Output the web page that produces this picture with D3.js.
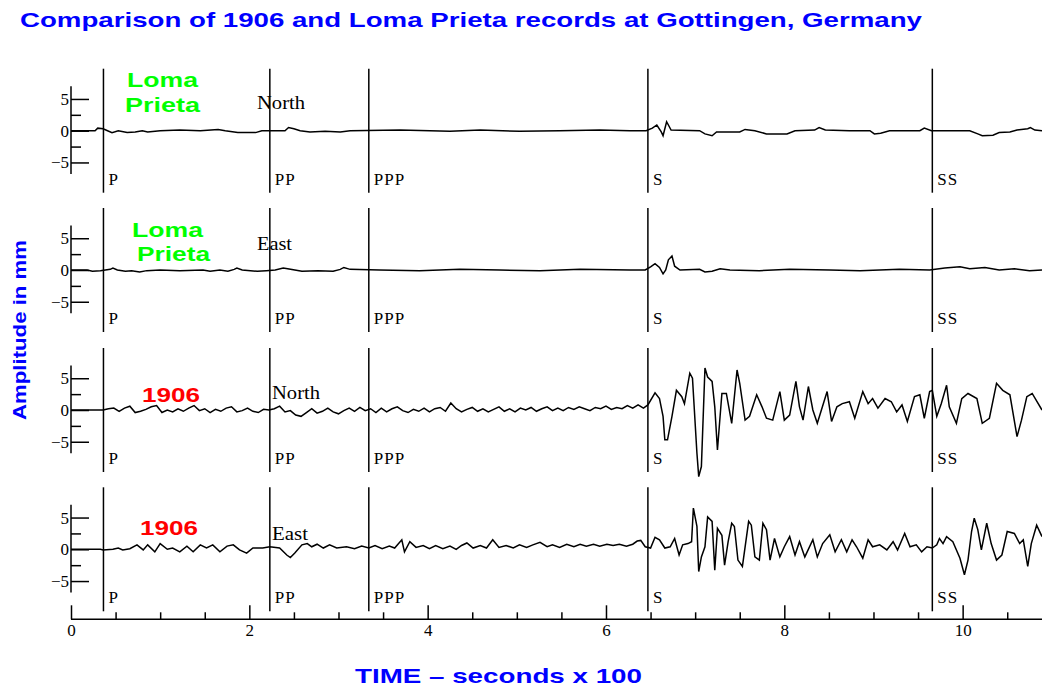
<!DOCTYPE html>
<html>
<head>
<meta charset="utf-8">
<script src="https://cdn.jsdelivr.net/npm/d3@7"></script>
<style>
  body { margin: 0; background: #fff; }
  svg { display: block; }
</style>
</head>
<body>
<svg id="chart" width="1042" height="688"></svg>
<script>
// phase arrivals, in seconds x 100
const phaseNames = ["P", "PP", "PPP", "S", "SS"];
const phaseTimes = [0.364, 2.23, 3.34, 6.47, 9.66];

const xMajorTicks = [0, 2, 4, 6, 8, 10];
const xMinorTicks = [0.5, 1, 1.5, 2.5, 3, 3.5, 4.5, 5, 5.5, 6.5, 7, 7.5, 8.5, 9, 9.5, 10.5];
const yMajorTicks = [-5, 0, 5];
const yMinorTicks = [-2.5, 2.5];

const eventNames = [["Loma", "Prieta"], ["Loma", "Prieta"], ["1906"], ["1906"]];
const componentNames = ["North", "East", "North", "East"];

// traces: [time (s x 100), amplitude (mm)]
const lomaNorth = [
  [0,0],[0.27,0],[0.30,0.4],[0.36,0.3],[0.41,0],[0.46,-0.3],[0.53,0],[0.63,-0.3],[0.72,-0.2],[0.80,0],
  [0.86,-0.2],[1.00,0],[1.22,0.1],[1.45,0],[1.65,0.2],[1.73,0],[1.87,-0.3],[2.07,-0.3],[2.14,0],[2.40,0],
  [2.44,0.5],[2.50,0.3],[2.57,0],[2.68,-0.2],[2.85,-0.1],[3.02,-0.2],[3.13,0],[3.69,0.1],[4.25,-0.1],[4.59,0.1],
  [5.03,-0.1],[5.48,0],[5.93,0.1],[6.27,0],[6.45,0],[6.52,0.4],[6.57,0.9],[6.62,-0.2],[6.64,-0.8],[6.68,1.4],
  [6.70,0.9],[6.73,0.1],[7.05,0],[7.11,-0.5],[7.19,-0.8],[7.24,-0.2],[7.50,-0.2],[7.56,0.2],[7.67,0],[7.80,-0.5],
  [8.03,-0.5],[8.12,0],[8.34,0.1],[8.39,0.5],[8.46,0.1],[8.73,0],[8.96,0],[9.01,-0.5],[9.08,-0.4],[9.18,0],
  [9.52,0],[9.57,0.4],[9.65,0],[10.08,0],[10.17,-0.5],[10.22,-0.8],[10.34,-0.7],[10.41,-0.3],[10.53,-0.2],[10.61,0.1],
  [10.73,0.3],[10.76,0.5],[10.81,0.1],[10.89,0]
];

const lomaEast = [
  [0,0],[0.18,0],[0.24,-0.2],[0.33,-0.1],[0.44,0.1],[0.47,0.3],[0.52,0],[0.61,-0.2],[0.68,-0.1],[0.77,-0.3],
  [0.85,-0.1],[1.00,0],[1.22,-0.1],[1.48,0],[1.56,-0.2],[1.67,0],[1.76,-0.2],[1.83,0.1],[1.86,0.3],[1.92,0],
  [2.09,-0.2],[2.19,-0.1],[2.29,0],[2.38,0.3],[2.43,0.2],[2.51,0],[2.59,-0.2],[2.77,-0.1],[2.94,-0.2],[3.02,0.1],
  [3.06,0.4],[3.13,0.1],[3.46,0],[3.91,-0.1],[4.36,0.1],[4.81,0],[5.26,-0.1],[5.71,0.1],[6.27,0],[6.44,0],
  [6.50,0.5],[6.55,1.0],[6.60,0.4],[6.64,-0.6],[6.67,0],[6.70,1.6],[6.74,2.2],[6.77,0.6],[6.83,0],[7.05,0.1],
  [7.11,-0.3],[7.19,-0.2],[7.28,0.2],[7.39,0],[7.72,-0.1],[8.06,0.1],[8.51,0],[8.85,-0.1],[9.29,0.1],[9.63,0],
  [9.80,0.3],[9.97,0.5],[10.08,0.2],[10.25,0.4],[10.41,0],[10.58,0.2],[10.75,-0.1],[10.89,0]
];

const north1906 = [
  [0,0],[0.36,0],[0.42,0.2],[0.48,0.3],[0.54,-0.2],[0.60,0.3],[0.66,0.6],[0.72,-0.4],[0.78,-0.2],[0.84,0.1],
  [0.90,0.5],[0.96,0.7],[1.02,-0.4],[1.08,0.0],[1.14,-0.3],[1.20,0.2],[1.26,-0.2],[1.32,0.3],[1.38,0.7],[1.44,-0.1],
  [1.50,0.2],[1.56,-0.4],[1.62,0.1],[1.68,-0.2],[1.74,0.3],[1.80,0.5],[1.86,-0.3],[1.92,-0.1],[1.98,0.3],[2.04,-0.2],
  [2.10,-0.4],[2.16,0.1],[2.22,0.0],[2.28,0.2],[2.34,0.6],[2.40,-0.3],[2.46,-0.1],[2.52,-0.8],[2.58,-1.0],[2.64,-0.4],
  [2.70,0.2],[2.76,-0.5],[2.82,-0.2],[2.88,0.3],[2.94,-0.3],[3.00,-0.6],[3.06,-0.1],[3.12,0.3],[3.18,-0.2],[3.24,0.4],
  [3.30,-0.1],[3.36,0.2],[3.42,-0.4],[3.48,0.3],[3.54,-0.3],[3.60,0.2],[3.66,0.5],[3.72,-0.1],[3.78,-0.4],[3.84,0.1],
  [3.90,-0.2],[3.96,0.3],[4.02,-0.3],[4.08,0.2],[4.14,0.4],[4.20,-0.2],[4.26,1.1],[4.32,0.2],[4.38,-0.3],[4.44,0.1],
  [4.50,0.4],[4.56,-0.2],[4.62,0.2],[4.68,-0.3],[4.74,0.1],[4.80,0.5],[4.86,-0.2],[4.92,0.2],[4.98,-0.3],[5.04,0.3],
  [5.10,0.0],[5.16,0.4],[5.22,-0.2],[5.28,0.2],[5.34,0.5],[5.40,-0.1],[5.46,0.3],[5.52,-0.1],[5.58,0.4],[5.64,0.1],
  [5.70,0.5],[5.76,0.2],[5.82,-0.1],[5.88,0.4],[5.94,0.2],[6.00,0.6],[6.06,0.1],[6.12,0.4],[6.18,0.2],[6.24,0.7],
  [6.30,0.3],[6.36,0.8],[6.42,0.3],[6.47,0.8],[6.55,2.7],[6.60,1.8],[6.64,-1.0],[6.66,-4.7],[6.69,-4.7],[6.74,-1.0],
  [6.79,3.1],[6.85,2.1],[6.88,1.0],[6.94,5.8],[6.97,5.0],[7.02,-6.8],[7.04,-10.5],[7.07,-8.9],[7.11,6.6],[7.14,5.2],
  [7.19,4.5],[7.22,0.5],[7.25,-6.3],[7.30,2.6],[7.35,2.6],[7.41,-2.1],[7.47,6.3],[7.50,4.2],[7.56,-1.6],[7.61,-1.0],
  [7.69,2.4],[7.75,0.5],[7.80,-1.3],[7.87,-1.6],[7.95,2.9],[8.00,-1.6],[8.06,-0.8],[8.13,4.5],[8.17,0.5],[8.21,-1.6],
  [8.27,3.7],[8.32,0],[8.37,-2.1],[8.48,2.9],[8.53,-1.8],[8.59,0.5],[8.65,1.0],[8.73,1.3],[8.79,-1.3],[8.88,2.9],
  [8.94,1.0],[8.99,1.8],[9.05,0.3],[9.13,1.8],[9.20,1.3],[9.26,-0.3],[9.32,0.8],[9.38,-1.8],[9.46,2.1],[9.52,2.4],
  [9.57,-1.3],[9.63,2.9],[9.66,3.1],[9.71,-1.0],[9.76,1.0],[9.82,3.9],[9.85,0.5],[9.93,-2.1],[9.99,1.8],[10.06,2.6],
  [10.16,1.8],[10.22,-2.1],[10.30,-1.3],[10.38,4.2],[10.45,3.1],[10.53,2.4],[10.61,-4.2],[10.66,-1.6],[10.72,2.1],[10.78,2.6],
  [10.89,0]
];

const east1906 = [
  [0,0],[0.33,0],[0.36,-0.1],[0.47,0.0],[0.53,0.2],[0.58,-0.1],[0.66,0.1],[0.74,0.7],[0.81,-0.1],[0.86,0.7],
  [0.94,-0.4],[1.00,0.9],[1.08,0],[1.14,0.2],[1.22,-0.4],[1.30,0.5],[1.37,-0.4],[1.45,0.7],[1.52,0.2],[1.59,0.7],
  [1.67,-0.4],[1.75,0.5],[1.82,0.7],[1.89,-0.1],[1.97,-0.6],[2.04,0.2],[2.15,0.2],[2.23,0.4],[2.34,0.2],[2.42,-0.9],
  [2.46,-1.3],[2.51,-0.6],[2.59,0.7],[2.65,0.9],[2.70,0.4],[2.76,0.8],[2.83,0.2],[2.90,0.7],[2.98,0.2],[3.09,0.4],
  [3.18,0.1],[3.26,0.5],[3.34,0.2],[3.41,0.6],[3.49,0.1],[3.57,0.5],[3.63,0.2],[3.71,1.5],[3.74,-0.4],[3.80,1.2],
  [3.87,0.3],[3.95,0.6],[4.02,0.1],[4.09,0.6],[4.17,0.1],[4.25,0.5],[4.32,0.0],[4.38,0.6],[4.44,1.0],[4.51,0.2],
  [4.59,0.6],[4.66,0.2],[4.73,1.5],[4.80,0.3],[4.88,0.6],[4.96,0.2],[5.03,0.7],[5.11,0.3],[5.18,0.7],[5.26,1.1],
  [5.34,0.4],[5.40,0.7],[5.48,0.3],[5.56,0.8],[5.64,0.4],[5.71,0.8],[5.78,0.5],[5.86,0.8],[5.93,0.5],[6.01,0.8],
  [6.08,0.6],[6.15,0.8],[6.23,0.5],[6.30,0.8],[6.35,1.3],[6.39,1.4],[6.44,0.4],[6.50,0.2],[6.55,1.9],[6.60,1.5],
  [6.66,0.2],[6.72,0.4],[6.77,1.7],[6.82,-0.9],[6.86,0.7],[6.92,0.9],[6.96,1.2],[6.98,6.5],[7.02,3.6],[7.04,-3.5],
  [7.07,-1.2],[7.11,0.4],[7.14,5.1],[7.19,4.4],[7.22,-3.3],[7.25,3.3],[7.30,2.2],[7.33,-2.5],[7.37,1.2],[7.41,4.1],
  [7.44,3.6],[7.48,-1.7],[7.53,-2.7],[7.60,4.4],[7.63,3.8],[7.67,-1.2],[7.72,-1.7],[7.76,4.1],[7.80,3.1],[7.84,-1.7],
  [7.89,1.7],[7.95,-1.2],[8.00,0.4],[8.06,2.0],[8.12,-0.9],[8.17,1.2],[8.23,-1.2],[8.32,1.5],[8.37,-1.2],[8.43,0.9],
  [8.51,2.3],[8.57,-0.4],[8.64,1.5],[8.70,-0.4],[8.76,1.5],[8.81,0.4],[8.88,-1.4],[8.94,1.5],[8.99,0.4],[9.07,0.7],
  [9.15,-0.1],[9.22,1.2],[9.27,-0.1],[9.35,2.5],[9.41,0.4],[9.48,0.7],[9.54,-0.4],[9.60,0.4],[9.66,0.2],[9.71,0.7],
  [9.74,1.7],[9.78,0.9],[9.82,2.0],[9.89,1.2],[9.97,-1.4],[10.02,-4.0],[10.06,-1.7],[10.10,2.8],[10.13,4.9],[10.17,3.1],
  [10.21,-0.1],[10.27,4.1],[10.32,0.9],[10.38,-1.7],[10.44,-0.9],[10.50,2.8],[10.58,2.5],[10.64,0.9],[10.68,1.5],[10.73,-2.7],
  [10.77,0.9],[10.83,3.8],[10.89,2.0]
];

const traces = [lomaNorth, lomaEast, north1906, east1906];

// ---- layout ----
const svg = d3.select("#chart");
const zeroLines = [130.7, 270, 410, 549.3];
const halfPx = 62;              // panel half height in px
const pxPerMm = 6.35;
const halfMm = halfPx / pxPerMm;
const eventColors = ["#00ff00", "#00ff00", "#ff0000", "#ff0000"];
const eventPos = [
  [[127, 87, 71], [125, 112, 75]],
  [[132, 237, 71], [137, 261, 73]],
  [[142, 402, 58]],
  [[140, 535, 58]]
];
const compPos = [[257, 109, 48], [257, 250, 35], [272, 399, 48], [272, 540, 36]];
const serif = "'Liberation Serif', 'Times New Roman', serif";
const sans = "'Liberation Sans', Arial, Helvetica, sans-serif";

const x = d3.scaleLinear().domain([0, 10.89]).range([71, 1042]);
const axisY = 619.3;

traces.forEach((data, i) => {
  const z = zeroLines[i];
  const y = d3.scaleLinear().domain([-halfMm, halfMm]).range([z + halfPx, z - halfPx]);
  const g = svg.append("g").attr("class", "panel");

  // y axis
  g.append("line")
    .attr("x1", x(0)).attr("x2", x(0))
    .attr("y1", y(7)).attr("y2", y(-6.8))
    .attr("stroke", "#000").attr("stroke-width", 1.5);
  const major = g.append("g").attr("transform", `translate(${x(0)},0)`)
    .call(d3.axisRight(y).tickValues(yMajorTicks).tickSize(18).tickSizeOuter(0).tickFormat(""));
  const minor = g.append("g").attr("transform", `translate(${x(0)},0)`)
    .call(d3.axisRight(y).tickValues(yMinorTicks).tickSize(10).tickSizeOuter(0).tickFormat(""));
  const labels = g.append("g").attr("transform", `translate(${x(0)},0)`)
    .call(d3.axisLeft(y).tickValues(yMajorTicks).tickSize(0).tickPadding(2));
  [major, minor, labels].forEach(a => {
    a.select(".domain").remove();
    a.selectAll("line").attr("stroke", "#000").attr("stroke-width", 1.5);
  });
  labels.selectAll("text").attr("font-family", serif).attr("font-size", 17).attr("fill", "#000");

  // phase lines
  g.selectAll("line.phase").data(phaseTimes).join("line")
    .attr("class", "phase")
    .attr("x1", d => x(d)).attr("x2", d => x(d))
    .attr("y1", y(halfMm)).attr("y2", y(-halfMm))
    .attr("stroke", "#000").attr("stroke-width", 1.5);
  g.selectAll("text.phase").data(phaseNames).join("text")
    .attr("class", "phase")
    .attr("x", (d, j) => x(phaseTimes[j]) + 5)
    .attr("y", z + 54)
    .attr("font-family", serif).attr("font-size", 17)
    .attr("letter-spacing", 1)
    .text(d => d);

  // trace
  const line = d3.line().x(d => x(d[0])).y(d => y(d[1]));
  g.append("path").datum(data)
    .attr("d", line)
    .attr("fill", "none").attr("stroke", "#000")
    .attr("stroke-width", 1.5).attr("stroke-linejoin", "miter");

  // labels
  eventNames[i].forEach((t, k) => {
    const [px, py, w] = eventPos[i][k];
    g.append("text").attr("x", px).attr("y", py)
      .attr("font-family", sans).attr("font-weight", "bold").attr("font-size", 21)
      .attr("fill", eventColors[i])
      .attr("textLength", w).attr("lengthAdjust", "spacingAndGlyphs")
      .text(t);
  });
  const [cx, cy, cw] = compPos[i];
  g.append("text").attr("x", cx).attr("y", cy)
    .attr("font-family", serif).attr("font-size", 18).attr("fill", "#000")
    .attr("textLength", cw).attr("lengthAdjust", "spacingAndGlyphs")
    .text(componentNames[i]);
});

// x axis
const xg = svg.append("g");
xg.append("line").attr("x1", x(0)).attr("x2", 1042).attr("y1", axisY).attr("y2", axisY)
  .attr("stroke", "#000").attr("stroke-width", 1.5);
const xMajor = xg.append("g").attr("transform", `translate(0,${axisY})`)
  .call(d3.axisTop(x).tickValues(xMajorTicks).tickSize(14).tickSizeOuter(0).tickFormat(""));
const xMinor = xg.append("g").attr("transform", `translate(0,${axisY})`)
  .call(d3.axisTop(x).tickValues(xMinorTicks).tickSize(7).tickSizeOuter(0).tickFormat(""));
const xLabels = xg.append("g").attr("transform", `translate(0,${axisY})`)
  .call(d3.axisBottom(x).tickValues(xMajorTicks).tickSize(0).tickPadding(5).tickFormat(d3.format("d")));
[xMajor, xMinor, xLabels].forEach(a => {
  a.select(".domain").remove();
  a.selectAll("line").attr("stroke", "#000").attr("stroke-width", 1.5);
});
xLabels.selectAll("text").attr("font-family", serif).attr("font-size", 17).attr("fill", "#000");

// titles
svg.append("text").attr("x", 20).attr("y", 26.7)
  .attr("font-family", sans).attr("font-weight", "bold").attr("font-size", 21).attr("fill", "#0000ff")
  .attr("textLength", 902).attr("lengthAdjust", "spacingAndGlyphs")
  .text("Comparison of 1906 and Loma Prieta records at Gottingen, Germany");

svg.append("text").attr("x", 355).attr("y", 683)
  .attr("font-family", sans).attr("font-weight", "bold").attr("font-size", 21).attr("fill", "#0000ff")
  .attr("textLength", 287).attr("lengthAdjust", "spacingAndGlyphs")
  .text("TIME \u2013 seconds x 100");

svg.append("text")
  .attr("transform", "translate(25.5,420) rotate(-90)")
  .attr("font-family", sans).attr("font-weight", "bold").attr("font-size", 19).attr("fill", "#0000ff")
  .attr("textLength", 180).attr("lengthAdjust", "spacingAndGlyphs")
  .text("Amplitude in mm");
</script>
</body>
</html>
